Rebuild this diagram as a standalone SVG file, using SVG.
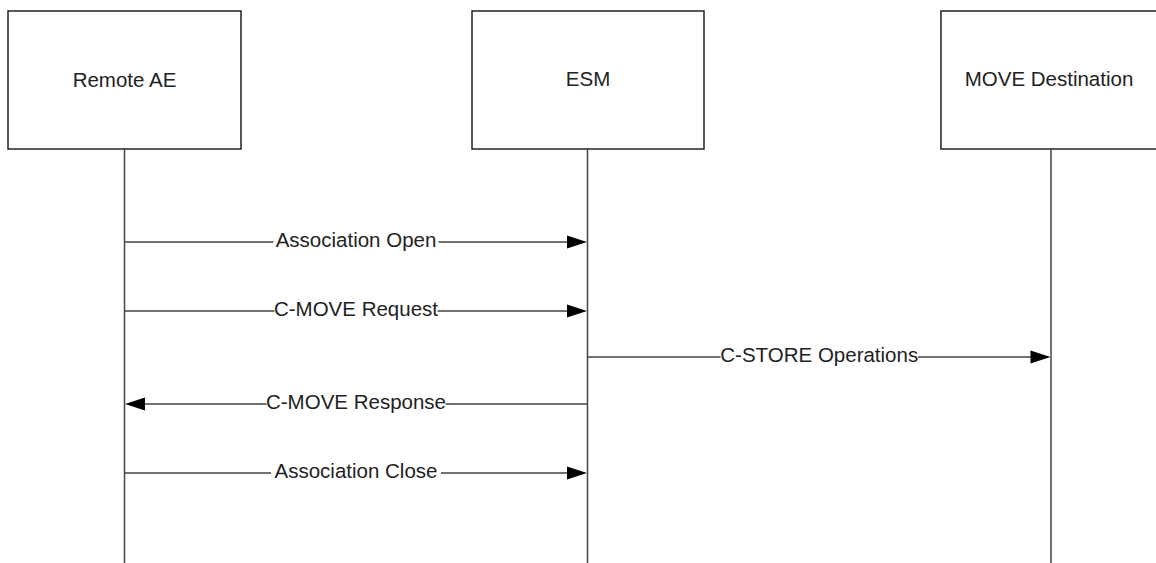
<svg xmlns="http://www.w3.org/2000/svg" width="1156" height="563" viewBox="0 0 1156 563">
<style>
.box{fill:#fff;stroke:#222;stroke-width:1.5}
.life{stroke:#444;stroke-width:1.5;fill:none}
.msg{stroke:#444;stroke-width:1.5;fill:none}
.head{fill:#000}
text{font-family:"Liberation Sans",Arial,sans-serif;font-size:20.5px;fill:#222;text-anchor:middle}
</style>
<rect width="1156" height="563" fill="#fff"/>
<g id="remote-ae">
<rect class="box" x="8" y="11" width="233" height="138"/>
<text x="124.5" y="87">Remote AE</text>
<line class="life" x1="124.5" y1="149" x2="124.5" y2="563"/>
</g>
<g id="esm">
<rect class="box" x="472" y="11" width="232" height="138"/>
<text x="588" y="86">ESM</text>
<line class="life" x1="587.5" y1="149" x2="587.5" y2="563"/>
</g>
<g id="move-destination">
<rect class="box" x="941" y="11" width="222" height="138"/>
<text x="1049" y="86">MOVE Destination</text>
<line class="life" x1="1051" y1="149" x2="1051" y2="563"/>
</g>
<g id="connectors">
<g id="m1">
<path class="msg" d="M124.5 242H273.5M438.5 242H568"/>
<polygon class="head" points="587,242 567,235.5 567,248.5"/>
<text x="356" y="247">Association Open</text>
</g>
<g id="m2">
<path class="msg" d="M124.5 311H274.5M437.5 311H568"/>
<polygon class="head" points="587,311 567,304.5 567,317.5"/>
<text x="356" y="316">C-MOVE Request</text>
</g>
<g id="m3">
<path class="msg" d="M587.5 357H720.5M918 357H1032"/>
<polygon class="head" points="1050.5,357 1030.5,350.5 1030.5,363.5"/>
<text x="819.25" y="362">C-STORE Operations</text>
</g>
<g id="m4">
<path class="msg" d="M144 404H266.5M445.5 404H587.5"/>
<polygon class="head" points="125,404 145,397.5 145,410.5"/>
<text x="356" y="409">C-MOVE Response</text>
</g>
<g id="m5">
<path class="msg" d="M124.5 473H271M441 473H568"/>
<polygon class="head" points="587,473 567,466.5 567,479.5"/>
<text x="356" y="478">Association Close</text>
</g>
</g>
</svg>
